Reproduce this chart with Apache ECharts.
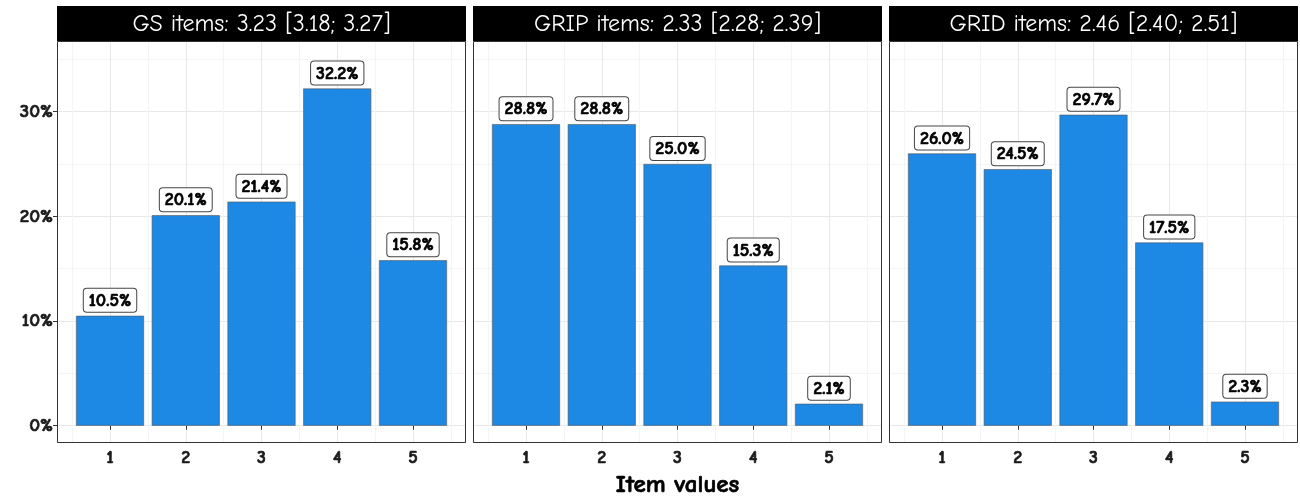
<!DOCTYPE html>
<html>
<head>
<meta charset="utf-8">
<script src="https://cdn.jsdelivr.net/npm/echarts@6/dist/echarts.min.js"></script>
<style>
    html, body { margin: 0; padding: 0; background: #fff; }
    #item-values { width: 1300px; height: 498px; }
</style>
</head>
<body>
<div id="item-values"></div>
<script>
var itemValues = [1, 2, 3, 4, 5];
var panelTitles = ['GS items: 3.23 [3.18; 3.27]', 'GRIP items: 2.33 [2.28; 2.39]', 'GRID items: 2.46 [2.40; 2.51]'];
var gsPercent = [10.5, 20.1, 21.4, 32.2, 15.8];
var gripPercent = [28.8, 28.8, 25.0, 15.3, 2.1];
var gridPercent = [26.0, 24.5, 29.7, 17.5, 2.3];
var yTicks = [0, 10, 20, 30];
var yMinorTicks = [5, 15, 25, 35];
var xMinorTicks = [0.5, 1.5, 2.5, 3.5, 4.5, 5.5];

var Charts = function() {
    var font = "'Comic Sans MS', 'Comic Neue', 'Noto Sans', sans-serif";
    var panelLefts = [57, 473, 889];
    var panelWidth = 409;
    var plotTop = 41;
    var plotHeight = 402;
    var stripTop = 6;

    // bold text with a thin stroke so it reads heavier
    var boldText = function(size, color) {
        return {
            fontFamily: font, fontWeight: 'bold', fontSize: size, color: color,
            textBorderColor: color, textBorderWidth: 0.7
        };
    };

    var _option = function() {
        var values = [gsPercent, gripPercent, gridPercent];
        var grids = [], xAxes = [], yAxes = [], series = [], graphics = [];

        values.forEach(function(percent, i) {
            var first = i === 0;
            grids.push({
                left: panelLefts[i], top: plotTop, width: panelWidth, height: plotHeight,
                containLabel: false, outerBoundsMode: 'none'
            });

            // major lines + tick labels
            xAxes.push({
                type: 'value', gridIndex: i, min: 0.3, max: 5.7,
                name: i === 1 ? 'Item values' : '',
                nameLocation: 'middle', nameGap: 29,
                nameTextStyle: boldText(25, '#000'),
                axisLine: { show: false },
                axisTick: { show: true, customValues: itemValues, length: 4, lineStyle: { color: '#333' } },
                axisLabel: Object.assign({ customValues: itemValues, margin: 6 }, boldText(18, '#1a1a1a')),
                splitLine: { show: true, lineStyle: { color: '#e8e8e8', width: 1 } }
            });
            // minor lines
            xAxes.push({
                type: 'value', gridIndex: i, min: 0.3, max: 5.7, position: 'top',
                axisLine: { show: false },
                axisTick: { show: false, customValues: xMinorTicks },
                axisLabel: { show: false },
                splitLine: { show: true, lineStyle: { color: '#f4f4f4', width: 1 } }
            });
            yAxes.push({
                type: 'value', gridIndex: i, min: -1.65, max: 36.74,
                axisLine: { show: false },
                axisTick: { show: first, customValues: yTicks, length: 4, lineStyle: { color: '#333' } },
                axisLabel: Object.assign({ show: first, customValues: yTicks, margin: 4, formatter: '{value}%' }, boldText(19, '#1a1a1a')),
                splitLine: { show: true, lineStyle: { color: '#e8e8e8', width: 1 } }
            });
            yAxes.push({
                type: 'value', gridIndex: i, min: -1.65, max: 36.74, position: 'right',
                axisLine: { show: false },
                axisTick: { show: false, customValues: yMinorTicks },
                axisLabel: { show: false },
                splitLine: { show: true, lineStyle: { color: '#f4f4f4', width: 1 } }
            });

            series.push({
                type: 'bar',
                xAxisIndex: 2 * i,
                yAxisIndex: 2 * i,
                barWidth: 68,
                data: itemValues.map(function(v, k) { return [v, percent[k]]; }),
                itemStyle: { color: '#1E88E5', borderColor: '#555', borderWidth: 0.6 },
                label: Object.assign({
                    show: true,
                    position: 'top',
                    distance: 4,
                    formatter: function(p) { return p.value[1].toFixed(1) + '%'; },
                    backgroundColor: '#fff',
                    borderColor: '#444',
                    borderWidth: 1,
                    borderRadius: 3,
                    padding: [3, 5, 2, 5]
                }, boldText(18, '#000'))
            });

            graphics.push({
                type: 'rect',
                x: panelLefts[i], y: stripTop,
                shape: { width: panelWidth, height: plotTop - stripTop },
                style: { fill: '#000' }
            });
            graphics.push({
                type: 'text',
                x: panelLefts[i] + panelWidth / 2, y: (stripTop + plotTop) / 2 + 1,
                style: {
                    text: panelTitles[i], fill: '#fff', align: 'center', verticalAlign: 'middle',
                    fontFamily: font, fontSize: 24
                }
            });
            graphics.push({
                type: 'rect',
                x: panelLefts[i] + 0.5, y: plotTop + 0.5,
                shape: { width: panelWidth - 1, height: plotHeight - 1 },
                style: { fill: 'none', stroke: '#333', lineWidth: 1 },
                z: 100
            });
        });

        return {
            animation: false,
            backgroundColor: '#fff',
            grid: grids,
            xAxis: xAxes,
            yAxis: yAxes,
            series: series,
            graphic: graphics
        };
    };

    var _chart = function(id) {
        if (typeof echarts == 'undefined') {
            console.warn('Warning - echarts.min.js is not loaded.');
            return;
        }
        var el = document.getElementById(id);
        if (el) {
            var myChart = echarts.init(el);
            myChart.setOption(_option());
        }
    };

    return {
        init: function() {
            _chart('item-values');
        }
    };
}();

document.addEventListener('DOMContentLoaded', function() {
    Charts.init();
});
</script>
</body>
</html>
